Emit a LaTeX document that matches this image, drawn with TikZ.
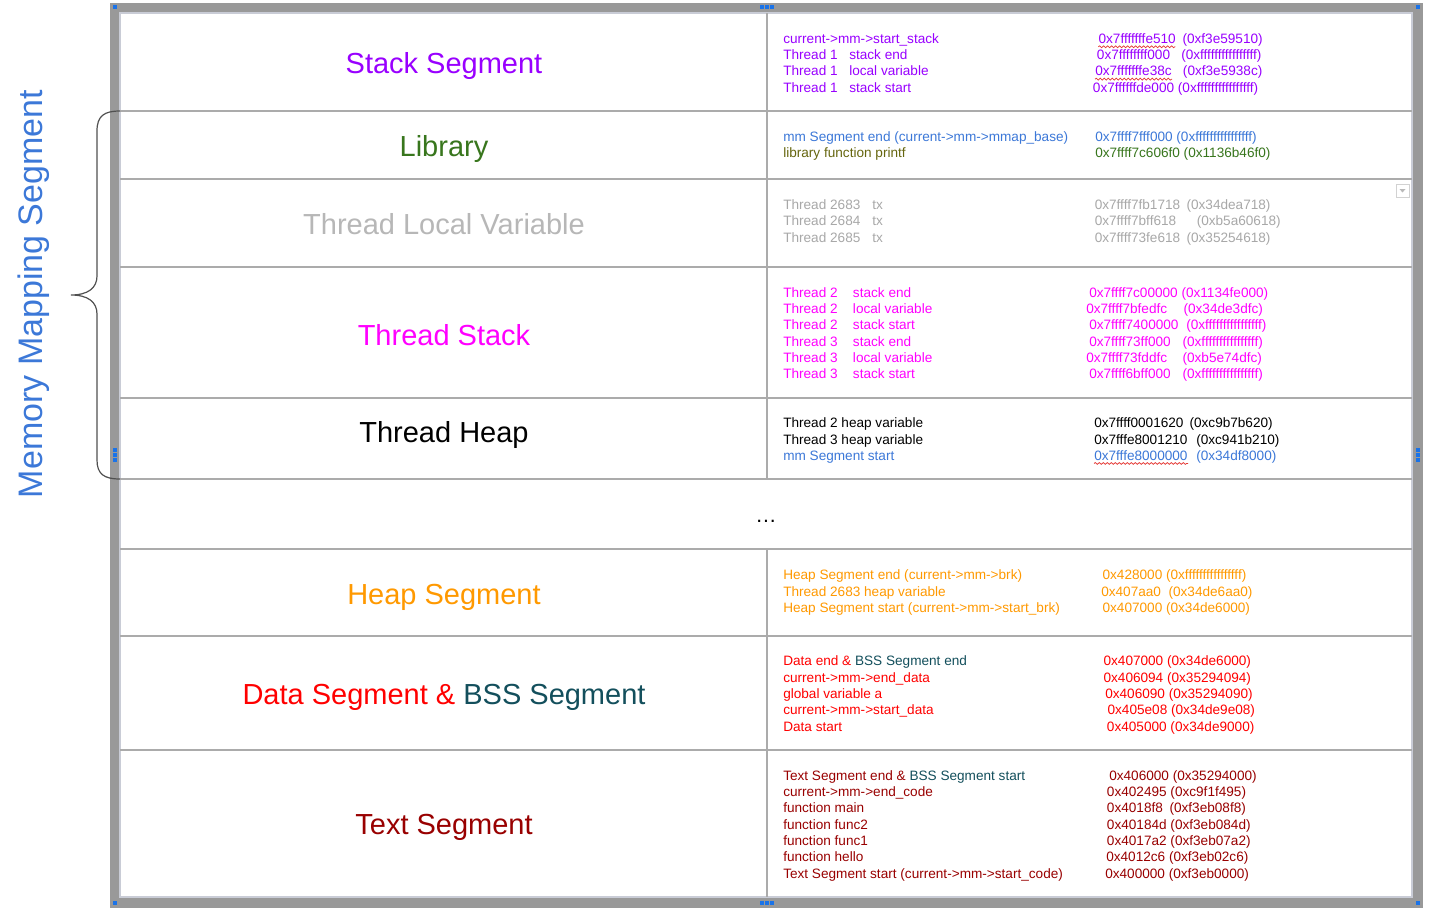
\documentclass[tikz,border=0pt]{standalone}
\usepackage{fontspec}
\setmainfont{Liberation Sans}
\usetikzlibrary{decorations.pathmorphing}

\definecolor{framegray}{HTML}{999999}
\definecolor{tableedge}{HTML}{C9CCD6}
\definecolor{gridgray}{HTML}{ABABAB}
\definecolor{handle}{HTML}{1A73E8}
\definecolor{stackc}{HTML}{9900FF}
\definecolor{mmblue}{HTML}{3C78D8}
\definecolor{libgreen}{HTML}{38761D}
\definecolor{libolive}{HTML}{66660F}
\definecolor{tlsgray}{HTML}{B7B7B7}
\definecolor{tlstext}{HTML}{A8A8A8}
\definecolor{tstack}{HTML}{FF00FF}
\definecolor{heapor}{HTML}{FF9900}
\definecolor{datared}{HTML}{FF0000}
\definecolor{bssteal}{HTML}{134F5C}
\definecolor{textred}{HTML}{990000}
\definecolor{spell}{HTML}{E53935}
\definecolor{bracegray}{HTML}{505050}

\newdimen\pxu \pxu=0.75pt

% address followed by its value, the value starting at a given offset
% (or after a plain space when the address is wider than that offset)
\newcommand\addrpair[3]{%
  \setbox0\hbox{#2\ }%
  \ifdim\wd0<#1\pxu\makebox[#1\pxu][l]{#2}\else\box0\fi#3}
% one address line of the right column: name, x, y, value offset, colour, address, value
\newcommand\addrline[7]{%
  \node[rt,text=#5] (#1) at (#2,#3+5) {\addrpair{#4}{#6}{#7}};}
% one description line of the left column: name, y, colour, text
\newcommand\descline[4]{%
  \node[lt,text=#3] (#1) at (783,#2+5) {#4};}

\begin{document}
\begin{tikzpicture}[x=0.75pt,y=-0.75pt,
  lt/.style={anchor=base west,inner sep=0pt,font=\fontsize{10.2pt}{12pt}\selectfont},
  rt/.style={anchor=base west,inner sep=0pt,font=\fontsize{10.2pt}{12pt}\selectfont},
  segtitle/.style={anchor=center,inner sep=0pt,font=\fontsize{21.75pt}{26pt}\selectfont},
  gridline/.style={draw=gridgray,line width=1.1pt},
  handlesq/.style={fill=handle,minimum size=2.4pt,inner sep=0pt,draw=none},
  squiggle/.style={draw=spell,line width=0.55pt,decorate,
    decoration={snake,amplitude=0.7pt,segment length=3pt}}]

\useasboundingbox (0,0) rectangle (1449,918);

% selection frame and table body
\fill[framegray] (110,3) rectangle (1423,908);
\filldraw[fill=white,draw=tableedge,line width=1.1pt] (120,13) rectangle (1412,897);

% table rules
\foreach \yy in {111,179,267,398,479,549,636,750}
  \draw[gridline] (120,\yy) -- (1412,\yy);
\draw[gridline] (767,13) -- (767,479);
\draw[gridline] (767,549) -- (767,897);

% selection handles
\foreach \hx/\hy [count=\i] in {115/7,1418/7,115/903,1418/903,
    762/7,767/7,772/7,762/903,767/903,772/903,
    115/450,115/455,115/460,1418/450,1418/455,1418/460}
  \node[handlesq] (h\i) at (\hx,\hy) {};

% small drop-down marker
\filldraw[fill=white,draw=gray!35,line width=0.5pt] (1396,184) rectangle (1409,197);
\fill[gray!55] (1399.5,189) -- (1405.5,189) -- (1402.5,192.5) -- cycle;

% segment titles
\node[segtitle,text=stackc]   (tStack) at (444,66)  {Stack Segment};
\node[segtitle,text=libgreen] (tLib)   at (444,149) {Library};
\node[segtitle,text=tlsgray]  (tTls)   at (444,224) {Thread Local Variable};
\node[segtitle,text=tstack]   (tTstk)  at (444,335) {Thread Stack};
\node[segtitle,text=black]    (tTheap) at (444,435) {Thread Heap};
\node[anchor=center,inner sep=0pt,font=\fontsize{16pt}{18pt}\selectfont] (tDots) at (766,521) {…};
\node[segtitle,text=heapor]   (tHeap)  at (444,597) {Heap Segment};
\node[segtitle,text=datared]  (tData)  at (444,697) {Data Segment \& \textcolor{bssteal}{BSS Segment}};
\node[segtitle,text=textred]  (tText)  at (444,827) {Text Segment};

% stack segment
\descline{s1l}{38.3}{stackc}{current->mm->start\_stack}
\descline{s2l}{54.3}{stackc}{\makebox[49.5pt][l]{Thread 1}stack end}
\descline{s3l}{70.7}{stackc}{\makebox[49.5pt][l]{Thread 1}local variable}
\descline{s4l}{87}{stackc}{\makebox[49.5pt][l]{Thread 1}stack start}
\addrline{s1r}{1098.3}{38.3}{84}{stackc}{0x7fffffffe510}{(0xf3e59510)}
\addrline{s2r}{1096.7}{54.3}{84.3}{stackc}{0x7ffffffff000}{(0xffffffffffffffff)}
\addrline{s3r}{1095}{70.7}{87.7}{stackc}{0x7fffffffe38c}{(0xf3e5938c)}
\addrline{s4r}{1092.7}{87}{83.3}{stackc}{0x7ffffffde000}{(0xffffffffffffffff)}

% library
\descline{l1l}{136}{mmblue}{mm Segment end (current->mm->mmap\_base)}
\descline{l2l}{152}{libolive}{library function printf}
\addrline{l1r}{1095}{136}{78.3}{mmblue}{0x7ffff7fff000}{(0xffffffffffffffff)}
\addrline{l2r}{1095}{152}{84.3}{libgreen}{0x7ffff7c606f0}{(0x1136b46f0)}

% thread local variables
\descline{v1l}{204}{tlstext}{\makebox[66.75pt][l]{Thread 2683}tx}
\descline{v2l}{220}{tlstext}{\makebox[66.75pt][l]{Thread 2684}tx}
\descline{v3l}{237}{tlstext}{\makebox[66.75pt][l]{Thread 2685}tx}
\addrline{v1r}{1094.5}{204}{91.8}{tlstext}{0x7ffff7fb1718}{(0x34dea718)}
\addrline{v2r}{1094.5}{220}{102}{tlstext}{0x7ffff7bff618}{(0xb5a60618)}
\addrline{v3r}{1094.5}{237}{91.8}{tlstext}{0x7ffff73fe618}{(0x35254618)}

% thread stacks
\descline{k1l}{292}{tstack}{\makebox[52.3pt][l]{Thread 2}stack end}
\descline{k2l}{308}{tstack}{\makebox[52.3pt][l]{Thread 2}local variable}
\descline{k3l}{324}{tstack}{\makebox[52.3pt][l]{Thread 2}stack start}
\descline{k4l}{341}{tstack}{\makebox[52.3pt][l]{Thread 3}stack end}
\descline{k5l}{357}{tstack}{\makebox[52.3pt][l]{Thread 3}local variable}
\descline{k6l}{373}{tstack}{\makebox[52.3pt][l]{Thread 3}stack start}
\addrline{k1r}{1089}{292}{92}{tstack}{0x7ffff7c00000}{(0x1134fe000)}
\addrline{k2r}{1086}{308}{97.3}{tstack}{0x7ffff7bfedfc}{(0x34de3dfc)}
\addrline{k3r}{1089}{324}{97}{tstack}{0x7ffff7400000}{(0xffffffffffffffff)}
\addrline{k4r}{1089}{341}{93.3}{tstack}{0x7ffff73ff000}{(0xffffffffffffffff)}
\addrline{k5r}{1086}{357}{96.3}{tstack}{0x7ffff73fddfc}{(0xb5e74dfc)}
\addrline{k6r}{1089}{373}{93.3}{tstack}{0x7ffff6bff000}{(0xffffffffffffffff)}

% thread heap
\descline{p1l}{422}{black}{Thread 2 heap variable}
\descline{p2l}{439}{black}{Thread 3 heap variable}
\descline{p3l}{455}{mmblue}{mm Segment start}
\addrline{p1r}{1094}{422}{95.3}{black}{0x7ffff0001620}{(0xc9b7b620)}
\addrline{p2r}{1094}{439}{102}{black}{0x7fffe8001210}{(0xc941b210)}
\addrline{p3r}{1094}{455}{102}{mmblue}{0x7fffe8000000}{(0x34df8000)}

% heap segment
\descline{e1l}{574}{heapor}{Heap Segment end (current->mm->brk)}
\descline{e2l}{591}{heapor}{Thread 2683 heap variable}
\descline{e3l}{607}{heapor}{Heap Segment start (current->mm->start\_brk)}
\addrline{e1r}{1102.3}{574}{61}{heapor}{0x428000}{(0xffffffffffffffff)}
\addrline{e2r}{1101}{591}{67.3}{heapor}{0x407aa0}{(0x34de6aa0)}
\addrline{e3r}{1102.3}{607}{63.4}{heapor}{0x407000}{(0x34de6000)}

% data and bss segment
\descline{d1l}{660}{datared}{Data end \& \textcolor{bssteal}{BSS Segment end}}
\descline{d2l}{677}{datared}{current->mm->end\_data}
\descline{d3l}{693}{datared}{global variable a}
\descline{d4l}{709}{datared}{current->mm->start\_data}
\descline{d5l}{726}{datared}{Data start}
\addrline{d1r}{1103.3}{660}{62.7}{datared}{0x407000}{(0x34de6000)}
\addrline{d2r}{1103.3}{677}{62.7}{datared}{0x406094}{(0x35294094)}
\addrline{d3r}{1105}{693}{62.7}{datared}{0x406090}{(0x35294090)}
\addrline{d4r}{1107.3}{709}{62.7}{datared}{0x405e08}{(0x34de9e08)}
\addrline{d5r}{1106.7}{726}{62.6}{datared}{0x405000}{(0x34de9000)}

% text segment
\descline{x1l}{775}{textred}{Text Segment end \& \textcolor{bssteal}{BSS Segment start}}
\descline{x2l}{791}{textred}{current->mm->end\_code}
\descline{x3l}{807}{textred}{function main}
\descline{x4l}{824}{textred}{function func2}
\descline{x5l}{840}{textred}{function func1}
\descline{x6l}{856}{textred}{function hello}
\descline{x7l}{873}{textred}{Text Segment start (current->mm->start\_code)}
\addrline{x1r}{1109}{775}{62.7}{textred}{0x406000}{(0x35294000)}
\addrline{x2r}{1106.7}{791}{62.6}{textred}{0x402495}{(0xc9f1f495)}
\addrline{x3r}{1106.7}{807}{62.6}{textred}{0x4018f8}{(0xf3eb08f8)}
\addrline{x4r}{1106.7}{824}{62.6}{textred}{0x40184d}{(0xf3eb084d)}
\addrline{x5r}{1106.7}{840}{62.6}{textred}{0x4017a2}{(0xf3eb07a2)}
\addrline{x6r}{1106}{856}{62.3}{textred}{0x4012c6}{(0xf3eb02c6)}
\addrline{x7r}{1105}{873}{63.3}{textred}{0x400000}{(0xf3eb0000)}

% spell-check underlines
\draw[squiggle] ([yshift=-2.6pt]s1r.base west) -- ++(77,0);
\draw[squiggle] ([yshift=-2.6pt]s3r.base west) -- ++(77,0);
\draw[squiggle] ([yshift=-2.6pt]p3r.base west) -- ++(94,0);

% brace grouping the memory mapping segment
\coordinate (braceTop) at (120,111);
\coordinate (braceTip) at (71,295);
\coordinate (braceBot) at (120,479);
\draw[bracegray,line width=0.9pt]
  (braceTop) .. controls (104,111) and (97,116) .. (97,131) -- (97,276)
  .. controls (97,288) and (88,295) .. (braceTip)
  .. controls (88,295) and (97,302) .. (97,314) -- (97,460)
  .. controls (97,474) and (104,479) .. (braceBot);
\node[rotate=90,anchor=center,inner sep=0pt,text=mmblue,
  font=\fontsize{25.5pt}{30pt}\selectfont] (mmLabel) at (34,294) {Memory Mapping Segment};

\end{tikzpicture}
\end{document}
